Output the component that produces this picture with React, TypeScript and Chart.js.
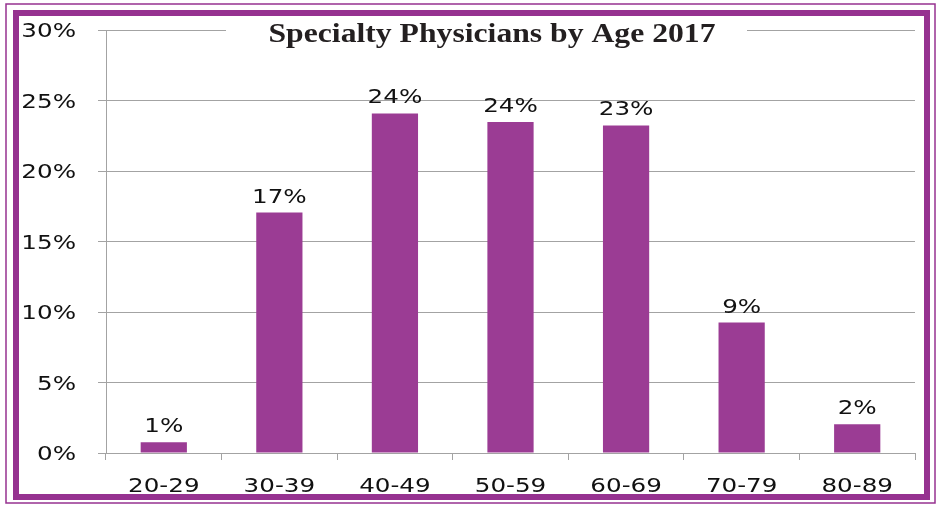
import React, { useEffect, useRef } from "react";
import { Chart, registerables } from "chart.js";

Chart.register(...registerables);

const categories = ["20-29", "30-39", "40-49", "50-59", "60-69", "70-79", "80-89"];
const shares = [0.76, 17.05, 24.08, 23.47, 23.23, 9.25, 2.04];
const valueLabels = ["1%", "17%", "24%", "24%", "23%", "9%", "2%"];
const yTickValues = [0, 5, 10, 15, 20, 25, 30];
const titleText = "Specialty Physicians by Age 2017";

const PURPLE = "#9B3C94";
const FRAME = "#963290";
const GRID = "#A3A3A3";
const AXIS_FONT = "20px 'DejaVu Sans'";
const STRETCH = 1.23;

function stretchedText(ctx: CanvasRenderingContext2D, text: string, x: number, y: number, align: CanvasTextAlign, sx: number) {
  ctx.save();
  ctx.translate(x, y);
  ctx.scale(sx, 1);
  ctx.textAlign = align;
  ctx.textBaseline = "alphabetic";
  ctx.fillText(text, 0, 0);
  ctx.restore();
}

const framePlugin = {
  id: "frame",
  beforeDraw(chart: any) {
    const ctx = chart.ctx as CanvasRenderingContext2D;
    ctx.save();
    ctx.fillStyle = "#ffffff";
    ctx.fillRect(0, 0, chart.width, chart.height);
    ctx.strokeStyle = FRAME;
    ctx.lineWidth = 1.5;
    ctx.strokeRect(6, 4, 929, 499);
    ctx.lineWidth = 6;
    ctx.strokeRect(16, 13, 911, 484);
    ctx.restore();
  },
  afterDraw(chart: any) {
    const ctx = chart.ctx as CanvasRenderingContext2D;
    const y = chart.scales.y;
    const x = chart.scales.x;
    const area = chart.chartArea;
    ctx.save();
    // title with white backing
    ctx.fillStyle = "#ffffff";
    ctx.fillRect(226, 18, 521, 30);
    ctx.fillStyle = "#231F20";
    ctx.font = "bold 28px 'Liberation Serif'";
    const w = ctx.measureText(titleText).width;
    const sx = 447 / w;
    stretchedText(ctx, titleText, 492, 42, "center", sx);

    ctx.fillStyle = "#111111";
    ctx.font = AXIS_FONT;
    yTickValues.forEach((v) => {
      stretchedText(ctx, v + "%", 76, y.getPixelForValue(v) + 7, "right", STRETCH);
    });
    categories.forEach((c, i) => {
      stretchedText(ctx, c, x.getPixelForValue(i), area.bottom + 39, "center", STRETCH);
    });
    const meta = chart.getDatasetMeta(0);
    meta.data.forEach((bar: any, i: number) => {
      stretchedText(ctx, valueLabels[i], bar.x, bar.y - 10, "center", STRETCH);
    });
    ctx.restore();
  },
};

export default function App() {
  const ref = useRef<HTMLCanvasElement | null>(null);
  useEffect(() => {
    if (!ref.current) return;
    const chart = new Chart(ref.current, {
      type: "bar",
      data: {
        labels: categories,
        datasets: [
          {
            data: shares,
            backgroundColor: PURPLE,
            barPercentage: 0.4,
            categoryPercentage: 1,
          },
        ],
      },
      options: {
        animation: false,
        responsive: false,
        maintainAspectRatio: false,
        layout: { padding: { left: 98, right: 23, top: 30, bottom: 46 } },
        plugins: { legend: { display: false }, tooltip: { enabled: false }, title: { display: false } },
        scales: {
          x: {
            ticks: { display: false },
            grid: {
              display: true,
              drawOnChartArea: false,
              drawTicks: true,
              tickLength: 7,
              color: GRID,
              offset: true,
            },
            border: { display: true, color: GRID, width: 1 },
          },
          y: {
            min: 0,
            max: 30,
            ticks: { display: false, stepSize: 5 },
            grid: { color: GRID, tickLength: 8, drawTicks: true },
            border: { display: true, color: GRID, width: 1 },
          },
        },
      },
      plugins: [framePlugin],
    });
    return () => chart.destroy();
  }, []);
  return (
    <div style={{ position: "absolute", left: 0, top: 0, width: 938, height: 506, background: "#fff" }}>
      <canvas ref={ref} width={938} height={506} style={{ display: "block", width: 938, height: 506 }} />
    </div>
  );
}
